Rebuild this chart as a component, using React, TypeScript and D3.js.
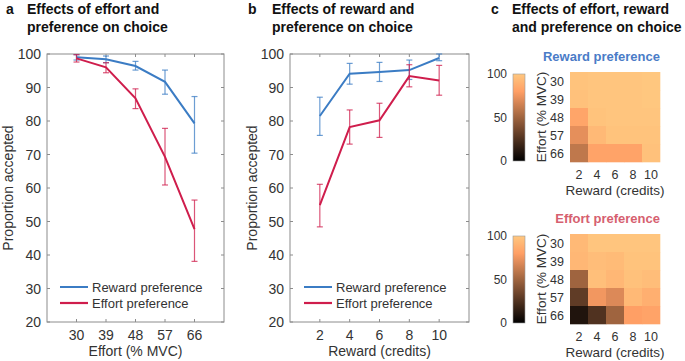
import React from 'react';
import * as d3 from 'd3';

// Panel a: effort levels (% MVC)
const effortLevels = [30, 39, 48, 57, 66];
const effortReward = [99.0, 98.4, 96.4, 91.7, 79.3];
const effortRewardLo = [98.2, 97.4, 95.2, 88.0, 70.4];
const effortRewardHi = [99.8, 99.4, 97.8, 95.2, 87.3];
const effortEffort = [98.7, 96.0, 86.8, 69.3, 47.7];
const effortEffortLo = [97.6, 94.4, 83.7, 60.9, 38.1];
const effortEffortHi = [99.8, 97.4, 89.6, 77.8, 56.4];

// Panel b: reward levels (credits)
const rewardLevels = [2, 4, 6, 8, 10];
const rewardReward = [81.5, 94.1, 94.6, 95.2, 98.8];
const rewardRewardLo = [75.7, 91.0, 91.8, 92.4, 98.0];
const rewardRewardHi = [87.1, 97.2, 97.5, 98.2, 100.0];
const rewardEffort = [54.9, 78.2, 80.2, 93.4, 92.1];
const rewardEffortLo = [48.4, 73.1, 75.1, 90.2, 87.7];
const rewardEffortHi = [61.1, 83.3, 85.3, 96.8, 96.6];

const yTicks = [20, 30, 40, 50, 60, 70, 80, 90, 100];

// Panel c: rows = effort 30..66, columns = reward 2..10
const heatReward = [
  [98, 99, 99, 99, 100],
  [97, 99, 99, 99, 100],
  [83, 98, 99, 99, 99],
  [72, 93, 98, 98, 98],
  [60, 82, 82, 82, 97],
];
const heatEffort = [
  [93, 99, 99, 99, 99],
  [92, 95, 94, 98, 98],
  [50, 96, 92, 97, 95],
  [30, 76, 69, 93, 88],
  [10, 25, 50, 80, 82],
];
const colorbarTicks = [0, 50, 100];

const BLUE = '#3b7cc4';
const RED = '#cf1d4c';
const AXIS = '#8c8c8c';
const TEXT = '#333';
const FONT = '"Liberation Sans", Arial, Helvetica, sans-serif';

// MATLAB copper colormap
const copper = (v: number) => {
  const x = Math.max(0, Math.min(1, v / 100));
  const r = Math.round(255 * Math.min(1, 1.25 * x));
  const g = Math.round(255 * 0.7812 * x);
  const b = Math.round(255 * 0.4975 * x);
  return `rgb(${r},${g},${b})`;
};

type Series = { vals: number[]; lo: number[]; hi: number[]; color: string };

const LinePanel = ({ xs, xRange, series, xLabel, yLabelX, legendX }: any) => {
  // categories sit at positions 1..5 with one empty slot either side
  const x = d3.scaleLinear().domain([0, xs.length + 1]).range(xRange);
  const y = d3.scaleLinear().domain([20, 100]).range([322, 54]);
  const [x0, x1] = xRange;
  const line = d3
    .line<number>()
    .x((_, i) => x(i + 1))
    .y((d) => y(d));
  const tick = 3;
  return (
    <g>
      <rect x={x0} y={y(100)} width={x1 - x0} height={y(20) - y(100)} fill="none" stroke={AXIS} strokeWidth={1} />
      {yTicks.map((t) => (
        <g key={t}>
          <line x1={x0} x2={x0 + tick} y1={y(t)} y2={y(t)} stroke={AXIS} />
          <line x1={x1} x2={x1 - tick} y1={y(t)} y2={y(t)} stroke={AXIS} />
          <text x={x0 - 6} y={y(t) + 5} textAnchor="end" fontSize={14} fill={TEXT}>
            {t}
          </text>
        </g>
      ))}
      {xs.map((v: number, i: number) => (
        <g key={v}>
          <line x1={x(i + 1)} x2={x(i + 1)} y1={y(20)} y2={y(20) - tick} stroke={AXIS} />
          <line x1={x(i + 1)} x2={x(i + 1)} y1={y(100)} y2={y(100) + tick} stroke={AXIS} />
          <text x={x(i + 1)} y={y(20) + 18} textAnchor="middle" fontSize={14} fill={TEXT}>
            {v}
          </text>
        </g>
      ))}
      <text x={(x0 + x1) / 2} y={356} textAnchor="middle" fontSize={14} fill={TEXT}>
        {xLabel}
      </text>
      <text transform="rotate(-90)" x={-(y(20) + y(100)) / 2} y={yLabelX} textAnchor="middle" fontSize={14} fill={TEXT}>
        Proportion accepted
      </text>
      {series.map((s: Series, k: number) => (
        <g key={k}>
          {s.vals.map((_, i) => (
            <g key={i} stroke={s.color} strokeOpacity={0.75} strokeWidth={1.2}>
              <line x1={x(i + 1)} x2={x(i + 1)} y1={y(s.lo[i])} y2={y(s.hi[i])} />
              <line x1={x(i + 1) - 3} x2={x(i + 1) + 3} y1={y(s.lo[i])} y2={y(s.lo[i])} />
              <line x1={x(i + 1) - 3} x2={x(i + 1) + 3} y1={y(s.hi[i])} y2={y(s.hi[i])} />
            </g>
          ))}
          <path d={line(s.vals) || ''} fill="none" stroke={s.color} strokeWidth={2} />
        </g>
      ))}
      <line x1={legendX} x2={legendX + 28} y1={287} y2={287} stroke={BLUE} strokeWidth={2} />
      <text x={legendX + 32} y={292} fontSize={13} fill={TEXT}>
        Reward preference
      </text>
      <line x1={legendX} x2={legendX + 28} y1={303} y2={303} stroke={RED} strokeWidth={2.2} />
      <text x={legendX + 32} y={308} fontSize={13} fill={TEXT}>
        Effort preference
      </text>
    </g>
  );
};

const Heatmap = ({ data, top, title, titleColor, gid }: any) => {
  const x = d3.scaleBand<number>().domain(rewardLevels).range([570, 660]);
  const y = d3.scaleBand<number>().domain(effortLevels).range([top, top + 90]);
  const cb = d3.scaleLinear().domain([0, 100]).range([top + 89, top + 2]);
  const stops = d3.range(0, 101, 5);
  return (
    <g>
      <defs>
        <linearGradient id={gid} x1="0" y1="1" x2="0" y2="0">
          {stops.map((s) => (
            <stop key={s} offset={`${s}%`} stopColor={copper(s)} />
          ))}
        </linearGradient>
      </defs>
      <text x={660} y={top - 11} textAnchor="end" fontSize={13} fontWeight="bold" fill={titleColor}>
        {title}
      </text>
      <rect x={513} y={cb(100)} width={12} height={cb(0) - cb(100)} fill={`url(#${gid})`} stroke="#999" strokeWidth={0.6} />
      {colorbarTicks.map((t) => (
        <text key={t} x={507} y={cb(t) + 4} textAnchor="end" fontSize={12} fill={TEXT}>
          {t}
        </text>
      ))}
      {data.map((row: number[], r: number) =>
        row.map((v, c) => (
          <rect
            key={`${r}-${c}`}
            x={x(rewardLevels[c])}
            y={y(effortLevels[r])}
            width={x.bandwidth() + 0.3}
            height={y.bandwidth() + 0.3}
            fill={copper(v)}
          />
        ))
      )}
      {effortLevels.map((e) => (
        <text key={e} x={564} y={(y(e) || 0) + y.bandwidth() / 2 + 4.5} textAnchor="end" fontSize={12.5} fill={TEXT}>
          {e}
        </text>
      ))}
      {rewardLevels.map((rw) => (
        <text key={rw} x={(x(rw) || 0) + x.bandwidth() / 2} y={top + 107} textAnchor="middle" fontSize={12.5} fill={TEXT}>
          {rw}
        </text>
      ))}
      <text x={615} y={top + 123} textAnchor="middle" fontSize={13.5} fill={TEXT}>
        Reward (credits)
      </text>
      <text transform="rotate(-90)" x={-(top + 45)} y={546} textAnchor="middle" fontSize={13.5} fill={TEXT}>
        Effort (% MVC)
      </text>
    </g>
  );
};

export default function App() {
  const seriesA: Series[] = [
    { vals: effortReward, lo: effortRewardLo, hi: effortRewardHi, color: BLUE },
    { vals: effortEffort, lo: effortEffortLo, hi: effortEffortHi, color: RED },
  ];
  const seriesB: Series[] = [
    { vals: rewardReward, lo: rewardRewardLo, hi: rewardRewardHi, color: BLUE },
    { vals: rewardEffort, lo: rewardEffortLo, hi: rewardEffortHi, color: RED },
  ];
  return (
    <svg
      width={685}
      height={361}
      style={{ position: 'absolute', left: 0, top: 0, background: '#fff' }}
      fontFamily={FONT}
    >
      <rect width={685} height={361} fill="#fff" />
      <g fontWeight="bold" fontSize={14} fill="#111">
        <text x={6} y={14}>a</text>
        <text x={27} y={14}>Effects of effort and</text>
        <text x={27} y={32}>preference on choice</text>
        <text x={248} y={14}>b</text>
        <text x={272} y={14}>Effects of reward and</text>
        <text x={272} y={32}>preference on choice</text>
        <text x={491} y={14}>c</text>
        <text x={512} y={14}>Effects of effort, reward</text>
        <text x={512} y={32}>and preference on choice</text>
      </g>
      <LinePanel xs={effortLevels} xRange={[47, 224]} series={seriesA} xLabel="Effort (% MVC)" yLabelX={13} legendX={60} />
      <LinePanel xs={rewardLevels} xRange={[290, 469]} series={seriesB} xLabel="Reward (credits)" yLabelX={257} legendX={304} />
      <Heatmap data={heatReward} top={72} title="Reward preference" titleColor="#4a7cc7" gid="cbTop" />
      <Heatmap data={heatEffort} top={234} title="Effort preference" titleColor="#d6606f" gid="cbBot" />
    </svg>
  );
}
